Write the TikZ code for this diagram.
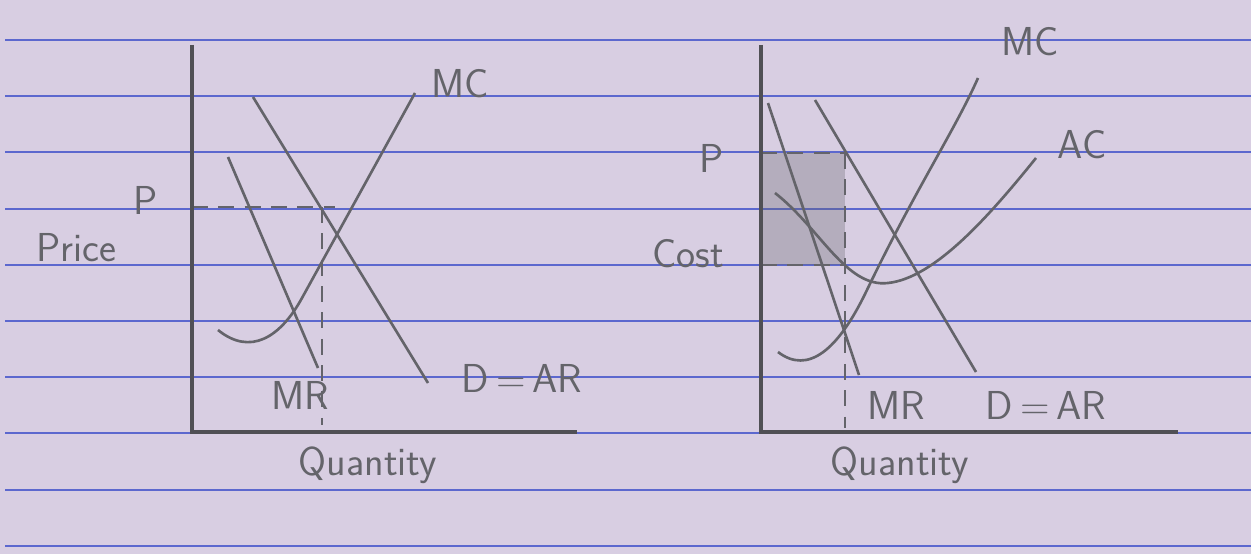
\documentclass[tikz,border=0pt]{standalone}
\definecolor{paper}{RGB}{216,206,226}
\definecolor{ruling}{RGB}{92,104,206}
\definecolor{pencil}{RGB}{100,100,106}
\tikzset{
    curve/.style={pencil, line width=1.5pt},
    axis/.style={pencil!80!black, line width=2.2pt},
    guide/.style={pencil, line width=1.3pt, dash pattern=on 9pt off 6pt},
    lbl/.style={text=pencil, font=\sffamily\fontsize{23}{27}\selectfont},
}
\begin{document}
\begin{tikzpicture}[x=0.02cm, y=-0.02cm]
    % paper
    \fill[paper] (0,0) rectangle (1251,554);
    \useasboundingbox (0,0) rectangle (1251,554);
    \foreach \i in {0,...,9} {
        \pgfmathsetmacro{\ly}{40+56.2*\i}
        \draw[ruling, line width=1.1pt] (5,\ly) -- (1251,\ly);
    }

    % left graph
    \coordinate (lO) at (192,432);
    \coordinate (lT) at (192,45);
    \coordinate (lE) at (577,432);
    \coordinate (lP) at (192,207);
    \coordinate (lA) at (322,207);
    \coordinate (lQ) at (322,425);
    \draw[guide] (lP) -- (335,207);
    \draw[guide] (lA) -- (lQ);
    \draw[curve] (228,157) coordinate (lmr1) -- (318,368) coordinate (lmr2);
    \draw[curve] (253,97) coordinate (ld1) -- (428,383) coordinate (ld2);
    \draw[curve] (218,330) .. controls (250,356) and (280,338) .. (302,298) -- (415,93) coordinate (lmc);
    \draw[axis] (lT) -- (lO) -- (lE);
    \node[lbl] (lprice) at (76,248) {Price};
    \node[lbl] (lplab) at (146,200) {P};
    \node[lbl] (lmclab) at (460,84) {MC};
    \node[lbl] (lmrlab) at (300,395) {MR};
    \node[lbl] (ldlab) at (522,378) {D\,=\,AR};
    \node[lbl] (lqty) at (368,465) {Quantity};

    % right graph
    \coordinate (rO) at (761,432);
    \coordinate (rT) at (761,45);
    \coordinate (rE) at (1178,432);
    \coordinate (rP) at (761,153);
    \coordinate (rC) at (761,265);
    \coordinate (rA) at (845,153);
    \coordinate (rB) at (845,265);
    \coordinate (rQ) at (845,428);
    % profit area
    \fill[pencil, opacity=0.3] (rP) rectangle (rB);
    \draw[guide] (rP) -- (rA);
    \draw[guide] (rC) -- (rB);
    \draw[guide] (rA) -- (rQ);
    \draw[curve] (768,103) coordinate (rmr1) -- (859,375) coordinate (rmr2);
    \draw[curve] (815,100) coordinate (rd1) -- (976,372) coordinate (rd2);
    \draw[curve] (778,352) .. controls (808,375) and (838,350) .. (866,292) .. controls (915,190) and (955,130) .. (978,78) coordinate (rmc);
    \draw[curve] (775,193) .. controls (820,228) and (846,288) .. (888,283) .. controls (935,278) and (990,215) .. (1036,158) coordinate (rac);
    \draw[axis] (rT) -- (rO) -- (rE);
    \node[lbl] (rplab) at (712,158) {P};
    \node[lbl] (rcost) at (688,254) {Cost};
    \node[lbl] (rmclab) at (1030,42) {MC};
    \node[lbl] (raclab) at (1082,145) {AC};
    \node[lbl] (rmrlab) at (896,405) {MR};
    \node[lbl] (rdlab) at (1046,405) {D\,=\,AR};
    \node[lbl] (rqty) at (900,465) {Quantity};
\end{tikzpicture}
\end{document}
